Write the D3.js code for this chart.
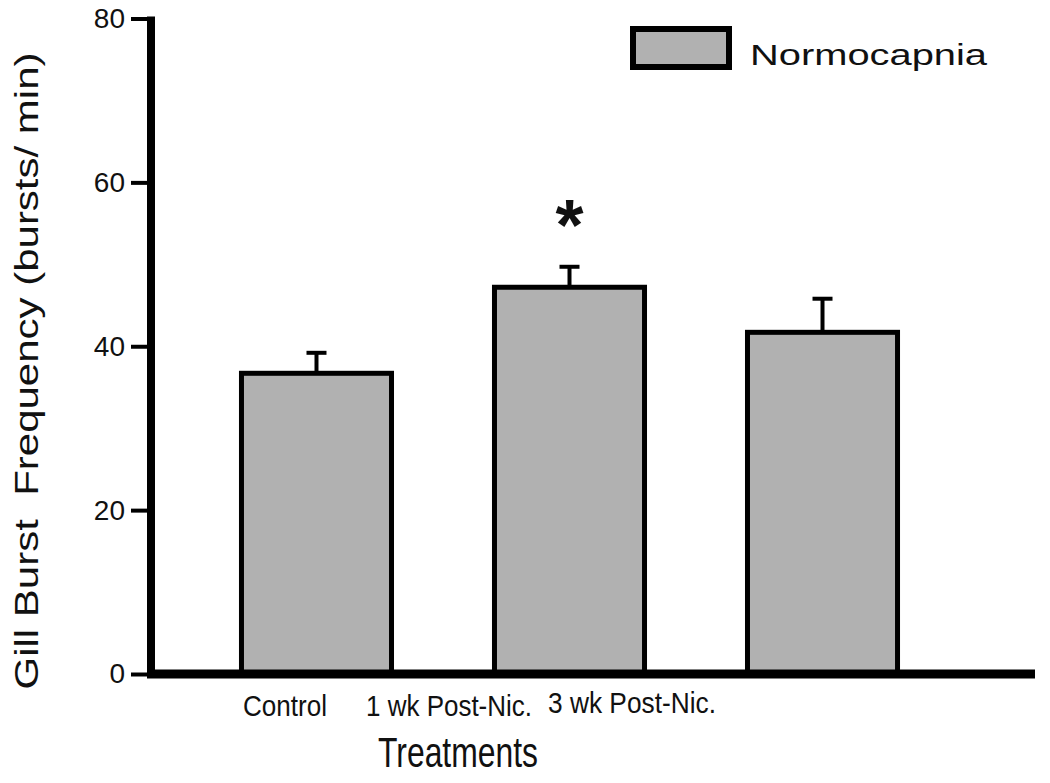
<!DOCTYPE html>
<html><head><meta charset="utf-8">
<script src="https://cdn.jsdelivr.net/npm/d3@7"></script>
<style>body{margin:0;background:#fff}svg{display:block}text{font-family:"Liberation Sans",Arial,sans-serif;fill:#111}</style>
</head><body><svg id="c" width="1050" height="783"></svg>
<script>
// ---- data ----
const categories = ["Control", "1 wk Post-Nic.", "3 wk Post-Nic."];
const means = [36.7, 47.2, 41.7];
const errorTops = [39.2, 49.7, 45.8];
const significance = ["", "*", ""];
const yTicks = [0, 20, 40, 60, 80];
const seriesName = "Normocapnia";
const xTitle = "Treatments";
const yTitle = "Gill Burst  Frequency (bursts/ min)";

// ---- layout ----
const labelDx = [-31.5, -120.5, -190.5];
const labelDy = [0, 0, -3];
const labelLen = [84, 166, 168];

const svg = d3.select("#c");
const y = d3.scaleLinear().domain([0, 80]).range([674, 18.5]);
const x = d3.scaleBand().domain(categories).range([138.5, 1000.5]).paddingInner(0.407).paddingOuter(0.407);

// bars
svg.append("g").selectAll("rect").data(categories).join("rect")
  .attr("x", d => x(d)).attr("width", x.bandwidth())
  .attr("y", (d, i) => y(means[i])).attr("height", (d, i) => y(0) - y(means[i]))
  .attr("fill", "#b1b1b1").attr("stroke", "#000").attr("stroke-width", 5);

// error bars
const eb = svg.append("g").attr("stroke", "#000").attr("stroke-width", 4);
categories.forEach((c, i) => {
  const cx = x(c) + x.bandwidth() / 2;
  eb.append("line").attr("x1", cx).attr("x2", cx).attr("y1", y(means[i]) - 2).attr("y2", y(errorTops[i]));
  eb.append("line").attr("x1", cx - 10).attr("x2", cx + 10).attr("y1", y(errorTops[i])).attr("y2", y(errorTops[i]));
});

// significance marks
svg.append("g").selectAll("text").data(categories).join("text")
  .attr("x", d => x(d) + x.bandwidth() / 2)
  .attr("y", (d, i) => y(errorTops[i]) - 17)
  .attr("text-anchor", "middle").attr("font-weight", "bold").attr("font-size", 72)
  .text((d, i) => significance[i]);

// y axis
const ya = svg.append("g").attr("transform", "translate(151,0)")
  .call(d3.axisLeft(y).tickValues(yTicks).tickSize(20).tickPadding(6));
ya.select(".domain").remove();
ya.selectAll(".tick line").attr("stroke", "#000").attr("stroke-width", 4);
ya.selectAll(".tick text").attr("font-size", 28).attr("fill", "#111")
  .attr("font-family", '"Liberation Sans",Arial,sans-serif');
svg.append("line").attr("x1", 151).attr("x2", 151).attr("y1", 16.5).attr("y2", 678)
  .attr("stroke", "#000").attr("stroke-width", 8);

// x axis
svg.append("line").attr("x1", 147).attr("x2", 1035).attr("y1", y(0)).attr("y2", y(0))
  .attr("stroke", "#000").attr("stroke-width", 9);
const xa = svg.append("g").attr("transform", `translate(0,${y(0)})`)
  .call(d3.axisBottom(x).tickSize(0).tickPadding(0));
xa.select(".domain").remove();
xa.selectAll(".tick text").each(function(d, i) {
  d3.select(this).attr("x", labelDx[i]).attr("y", 42 + labelDy[i]).attr("dy", null)
    .attr("font-size", 29).attr("fill", "#111").attr("text-anchor", "middle")
    .attr("font-family", '"Liberation Sans",Arial,sans-serif')
    .attr("textLength", labelLen[i]).attr("lengthAdjust", "spacingAndGlyphs");
});

// axis titles
svg.append("text").attr("x", 458).attr("y", 767).attr("text-anchor", "middle")
  .attr("font-size", 42).attr("textLength", 160).attr("lengthAdjust", "spacingAndGlyphs").text(xTitle);
svg.append("text").attr("transform", "translate(38,371) rotate(-90)").attr("text-anchor", "middle")
  .style("white-space", "pre").attr("xml:space", "preserve")
  .attr("font-size", 34).attr("textLength", 637).attr("lengthAdjust", "spacingAndGlyphs").text(yTitle);

// legend
svg.append("rect").attr("x", 633).attr("y", 29).attr("width", 96).attr("height", 38)
  .attr("fill", "#b1b1b1").attr("stroke", "#000").attr("stroke-width", 6);
svg.append("text").attr("x", 750).attr("y", 65).attr("font-size", 30)
  .attr("textLength", 237).attr("lengthAdjust", "spacingAndGlyphs").text(seriesName);
</script></body></html>
